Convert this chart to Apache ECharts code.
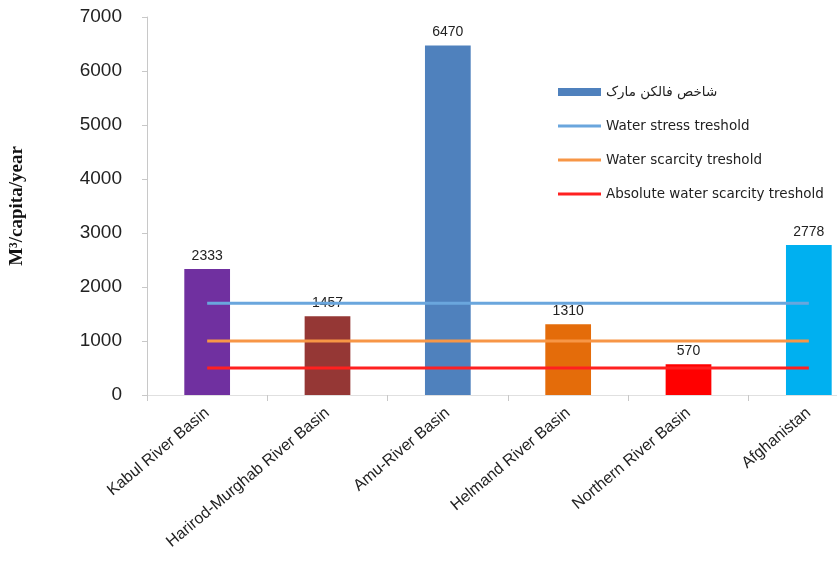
<!DOCTYPE html>
<html><head><meta charset="utf-8">
<script src="https://cdn.jsdelivr.net/npm/echarts@6/dist/echarts.min.js"></script>
<style>html,body{margin:0;padding:0;background:#fff;overflow:hidden}#c{width:872px;height:571px}</style>
</head><body><div id="c"></div>
<script>
const categories = ['Kabul River Basin','Harirod-Murghab River Basin','Amu-River Basin','Helmand River Basin','Northern River Basin','Afghanistan'];
const falkenmark = [2333, 1457, 6470, 1310, 570, 2778];
const barColors = ['#7030A0','#953735','#4F81BD','#E46C0A','#FF0000','#00B0F0'];
const stressThreshold = [1700,1700,1700,1700,1700,1700];
const scarcityThreshold = [1000,1000,1000,1000,1000,1000];
const absoluteThreshold = [500,500,500,500,500,500];
const seriesNames = ['شاخص فالکن مارک','Water stress treshold','Water scarcity treshold','Absolute water scarcity treshold'];
const yTicks = {min:0, max:7000, interval:1000};

const chart = echarts.init(document.getElementById('c'));
const font = 'Liberation Sans, DejaVu Sans, sans-serif';
chart.setOption({
  animation:false,
  backgroundColor:'#fff',
  grid:{left:147, top:17, right:3, bottom:176, containLabel:false},
  legend:{
    orient:'vertical', left:553, top:80, itemGap:20, itemWidth:43, itemHeight:8,
    textStyle:{fontFamily:'DejaVu Sans, sans-serif', fontSize:13.5, color:'#222'},
    data:[
      {name:seriesNames[0], icon:'rect'},
      {name:seriesNames[1], icon:'path://M0,0H40V3H0Z'},
      {name:seriesNames[2], icon:'path://M0,0H40V3H0Z'},
      {name:seriesNames[3], icon:'path://M0,0H40V3H0Z'}
    ]
  },
  xAxis:{
    type:'category', data:categories,
    axisLine:{show:true, lineStyle:{color:'#e0e0e0'}},
    axisTick:{show:true, length:6, lineStyle:{color:'#c8c8c8'}},
    axisLabel:{rotate:40, fontSize:16, color:'#222', fontFamily:font, margin:16, interval:0}
  },
  yAxis:{
    type:'value', min:yTicks.min, max:yTicks.max, interval:yTicks.interval,
    splitLine:{show:false},
    axisLine:{show:true, lineStyle:{color:'#c8c8c8'}},
    axisTick:{show:true, length:5, lineStyle:{color:'#c8c8c8'}},
    axisLabel:{fontSize:19, color:'#222', fontFamily:font, margin:25, formatter:v=>String(v)},
    name:'M³/capita/year', nameLocation:'middle', nameRotate:90, nameGap:120,
    nameTextStyle:{fontFamily:'Liberation Serif, serif', fontWeight:'bold', fontSize:19, color:'#111'}
  },
  series:[
    {name:seriesNames[0], type:'bar', barWidth:'38%', z:2,
     itemStyle:{color:'#4F81BD'},
     data:falkenmark.map((v,i)=>({value:v, itemStyle:{color:barColors[i]}})),
     label:{show:true, position:'top', distance:6, fontSize:14, color:'#222', fontFamily:font}},
    {name:seriesNames[1], type:'line', data:stressThreshold, symbol:'none', z:5,
     lineStyle:{color:'#6AA6DD', width:3}, itemStyle:{color:'#6AA6DD'}},
    {name:seriesNames[2], type:'line', data:scarcityThreshold, symbol:'none', z:5,
     lineStyle:{color:'#F79646', width:3}, itemStyle:{color:'#F79646'}},
    {name:seriesNames[3], type:'line', data:absoluteThreshold, symbol:'none', z:5,
     lineStyle:{color:'#FF2020', width:3}, itemStyle:{color:'#FF2020'}}
  ]
});
</script></body></html>
